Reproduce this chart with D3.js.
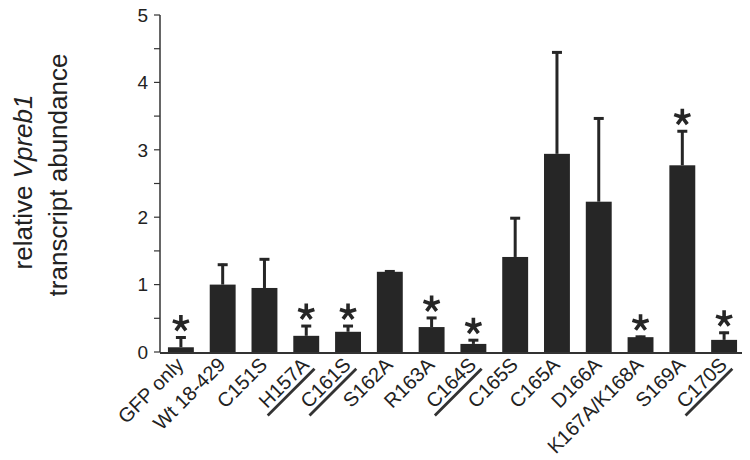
<!DOCTYPE html>
<html><head><meta charset="utf-8">
<script src="https://cdn.jsdelivr.net/npm/d3@7"></script>
<style>body{margin:0;background:#fff}svg{display:block}text{font-family:"Liberation Sans",Arial,sans-serif}</style>
</head><body>
<script>
const categories = ["GFP only","Wt 18-429","C151S","H157A","C161S","S162A","R163A","C164S","C165S","C165A","D166A","K167A/K168A","S169A","C170S"];
const means = [0.07,1.0,0.95,0.24,0.30,1.19,0.37,0.12,1.41,2.94,2.23,0.22,2.77,0.18];
const errTops = [0.23,1.31,1.39,0.40,0.40,1.21,0.52,0.19,2.0,4.46,3.48,0.24,3.29,0.30];
const significant = [true,false,false,true,true,false,true,true,false,false,false,true,true,true];
const underlined = [false,false,false,true,true,false,false,true,false,false,false,false,false,true];
const yTicks = [0,1,2,3,4,5];

const W=750,H=460;
const svg=d3.select("body").append("svg").attr("width",W).attr("height",H);
const x=d3.scaleBand().domain(categories).range([160,745]).paddingInner(0.38).paddingOuter(0.19);
const y=d3.scaleLinear().domain([0,5]).range([352,15]);
const ink="#262626";

// y axis
const ya=svg.append("g").attr("transform","translate(160,0)");
ya.append("line").attr("y1",y(5)).attr("y2",y(0)).attr("stroke","#333").attr("stroke-width",1.5);
ya.selectAll(".mt").data(d3.range(0,5.01,0.5)).join("line").attr("x1",-6).attr("x2",0)
  .attr("y1",d=>y(d)).attr("y2",d=>y(d)).attr("stroke","#333").attr("stroke-width",1.2);
ya.selectAll(".tl").data(yTicks).join("text").attr("x",-12).attr("y",d=>y(d)).attr("dy","0.36em")
  .attr("text-anchor","end").attr("font-size",19).attr("fill","#222").text(d=>d);

// bars
svg.selectAll(".bar").data(categories).join("rect").attr("x",d=>x(d)).attr("width",x.bandwidth())
  .attr("y",(d,i)=>y(means[i])).attr("height",(d,i)=>y(0)-y(means[i])).attr("fill",ink);
// error bars
const eb=svg.append("g").attr("stroke",ink);
const armAngles=[-90,-18,54,126,198].map(a=>a*Math.PI/180);
categories.forEach((c,i)=>{
  const cx=x(c)+x.bandwidth()/2;
  eb.append("line").attr("x1",cx).attr("x2",cx).attr("y1",y(means[i])).attr("y2",y(errTops[i])).attr("stroke-width",3);
  eb.append("line").attr("x1",cx-5).attr("x2",cx+5).attr("y1",y(errTops[i])+1).attr("y2",y(errTops[i])+1).attr("stroke-width",3);
  if(significant[i]){
    const ay=y(errTops[i])-13;
    const p=armAngles.map(a=>`M${cx},${ay}L${cx+8.5*Math.cos(a)},${ay+8.5*Math.sin(a)}`).join("");
    svg.append("path").attr("d",p).attr("stroke",ink).attr("stroke-width",3.6).attr("fill","none");
  }
});
// x axis line
svg.append("line").attr("x1",160).attr("x2",742).attr("y1",y(0)+1).attr("y2",y(0)+1).attr("stroke","#333").attr("stroke-width",2);

// x labels
categories.forEach((c,i)=>{
  const cx=x(c)+x.bandwidth()/2;
  const g=svg.append("g").attr("transform",`translate(${cx+4},${y(0)+14}) rotate(-45)`);
  const t=g.append("text").attr("text-anchor","end").attr("font-size",20).attr("fill","#222").text(c);
  if(underlined[i]){
    const len=t.node().getComputedTextLength();
    g.append("line").attr("x1",-len-4).attr("x2",1).attr("y1",5).attr("y2",5).attr("stroke","#333").attr("stroke-width",2.8);
  }
});

// y label
const yl=svg.append("text").attr("transform","translate(32,182) rotate(-90)").attr("text-anchor","middle")
  .attr("font-size",26).attr("fill","#222");
yl.append("tspan").text("relative ");
yl.append("tspan").attr("font-style","italic").text("Vpreb1");
svg.append("text").attr("transform","translate(67,175) rotate(-90)").attr("text-anchor","middle")
  .attr("font-size",26).attr("fill","#222").text("transcript abundance");
</script>
</body></html>
